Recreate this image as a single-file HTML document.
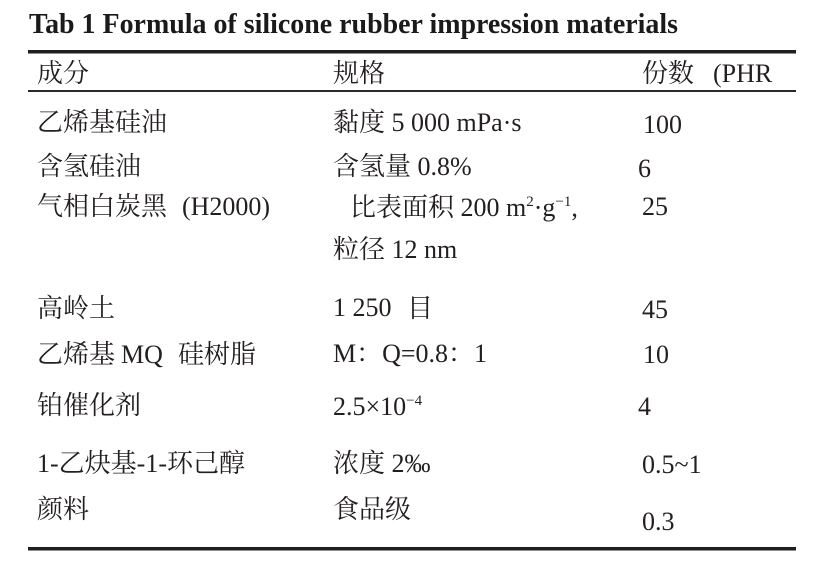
<!DOCTYPE html>
<html>
<head>
<meta charset="utf-8">
<style>
  html, body { margin: 0; padding: 0; background: #ffffff; }
  svg { display: block; }
  .t { font-family: "Liberation Serif", "Noto Serif CJK SC", serif; font-size: 26px; fill: #231f20; }
  .sup { font-size: 15px; }
</style>
</head>
<body>
<svg xmlns="http://www.w3.org/2000/svg" width="821" height="578" viewBox="0 0 821 578">
  <rect x="0" y="0" width="821" height="578" fill="#ffffff"/>

  <!-- Title -->
  <text x="29" y="33" font-family="Liberation Serif, serif" font-weight="bold" font-size="28" fill="#1a1a1a" textLength="649" lengthAdjust="spacingAndGlyphs">Tab 1 Formula of silicone rubber impression materials</text>

  <!-- Rules -->
  <rect x="28" y="50" width="768" height="3.5" fill="#1e1e1e"/>
  <rect x="28" y="90" width="768" height="2" fill="#2a2a2a"/>
  <rect x="28" y="547" width="768" height="3.5" fill="#1e1e1e"/>

  <!-- Header -->
  <text class="t" x="37" y="82">成分</text>
  <text class="t" x="333" y="82">规格</text>
  <text class="t" x="642" y="82">份数</text>
  <text class="t" x="713" y="82">(PHR</text>

  <!-- Column 1 -->
  <text class="t" x="37" y="131">乙烯基硅油</text>
  <text class="t" x="37" y="175">含氢硅油</text>
  <text class="t" x="37" y="215">气相白炭黑</text>
  <text class="t" x="182" y="215">(H2000)</text>
  <text class="t" x="37" y="317">高岭土</text>
  <text class="t" x="37" y="363">乙烯基</text>
  <text class="t" x="121" y="363">MQ</text>
  <text class="t" x="178" y="363">硅树脂</text>
  <text class="t" x="37" y="414">铂催化剂</text>
  <text class="t" x="37" y="472">1-乙炔基-1-环己醇</text>
  <text class="t" x="37" y="518">颜料</text>

  <!-- Column 2 -->
  <text class="t" x="333" y="131">黏度 5 000 mPa·s</text>
  <text class="t" x="333" y="175">含氢量 0.8%</text>
  <text class="t" x="350" y="216">比表面积 200 m<tspan class="sup" dy="-10">2</tspan><tspan dy="10">·g</tspan><tspan class="sup" dy="-10">−1</tspan><tspan dy="10">,</tspan></text>
  <text class="t" x="333" y="258">粒径 12 nm</text>
  <text class="t" x="333" y="316">1 250</text>
  <text class="t" x="407" y="317">目</text>
  <text class="t" x="333" y="362">M：Q=0.8：1</text>
  <text class="t" x="333" y="415">2.5×10<tspan class="sup" dy="-10">−4</tspan></text>
  <text class="t" x="333" y="472">浓度 2‰</text>
  <text class="t" x="333" y="518">食品级</text>

  <!-- Column 3 -->
  <text class="t" x="643" y="133">100</text>
  <text class="t" x="638" y="177">6</text>
  <text class="t" x="642" y="215">25</text>
  <text class="t" x="642" y="318">45</text>
  <text class="t" x="643" y="363">10</text>
  <text class="t" x="638" y="415">4</text>
  <text class="t" x="642" y="473">0.5~1</text>
  <text class="t" x="642" y="530">0.3</text>
</svg>
</body>
</html>
